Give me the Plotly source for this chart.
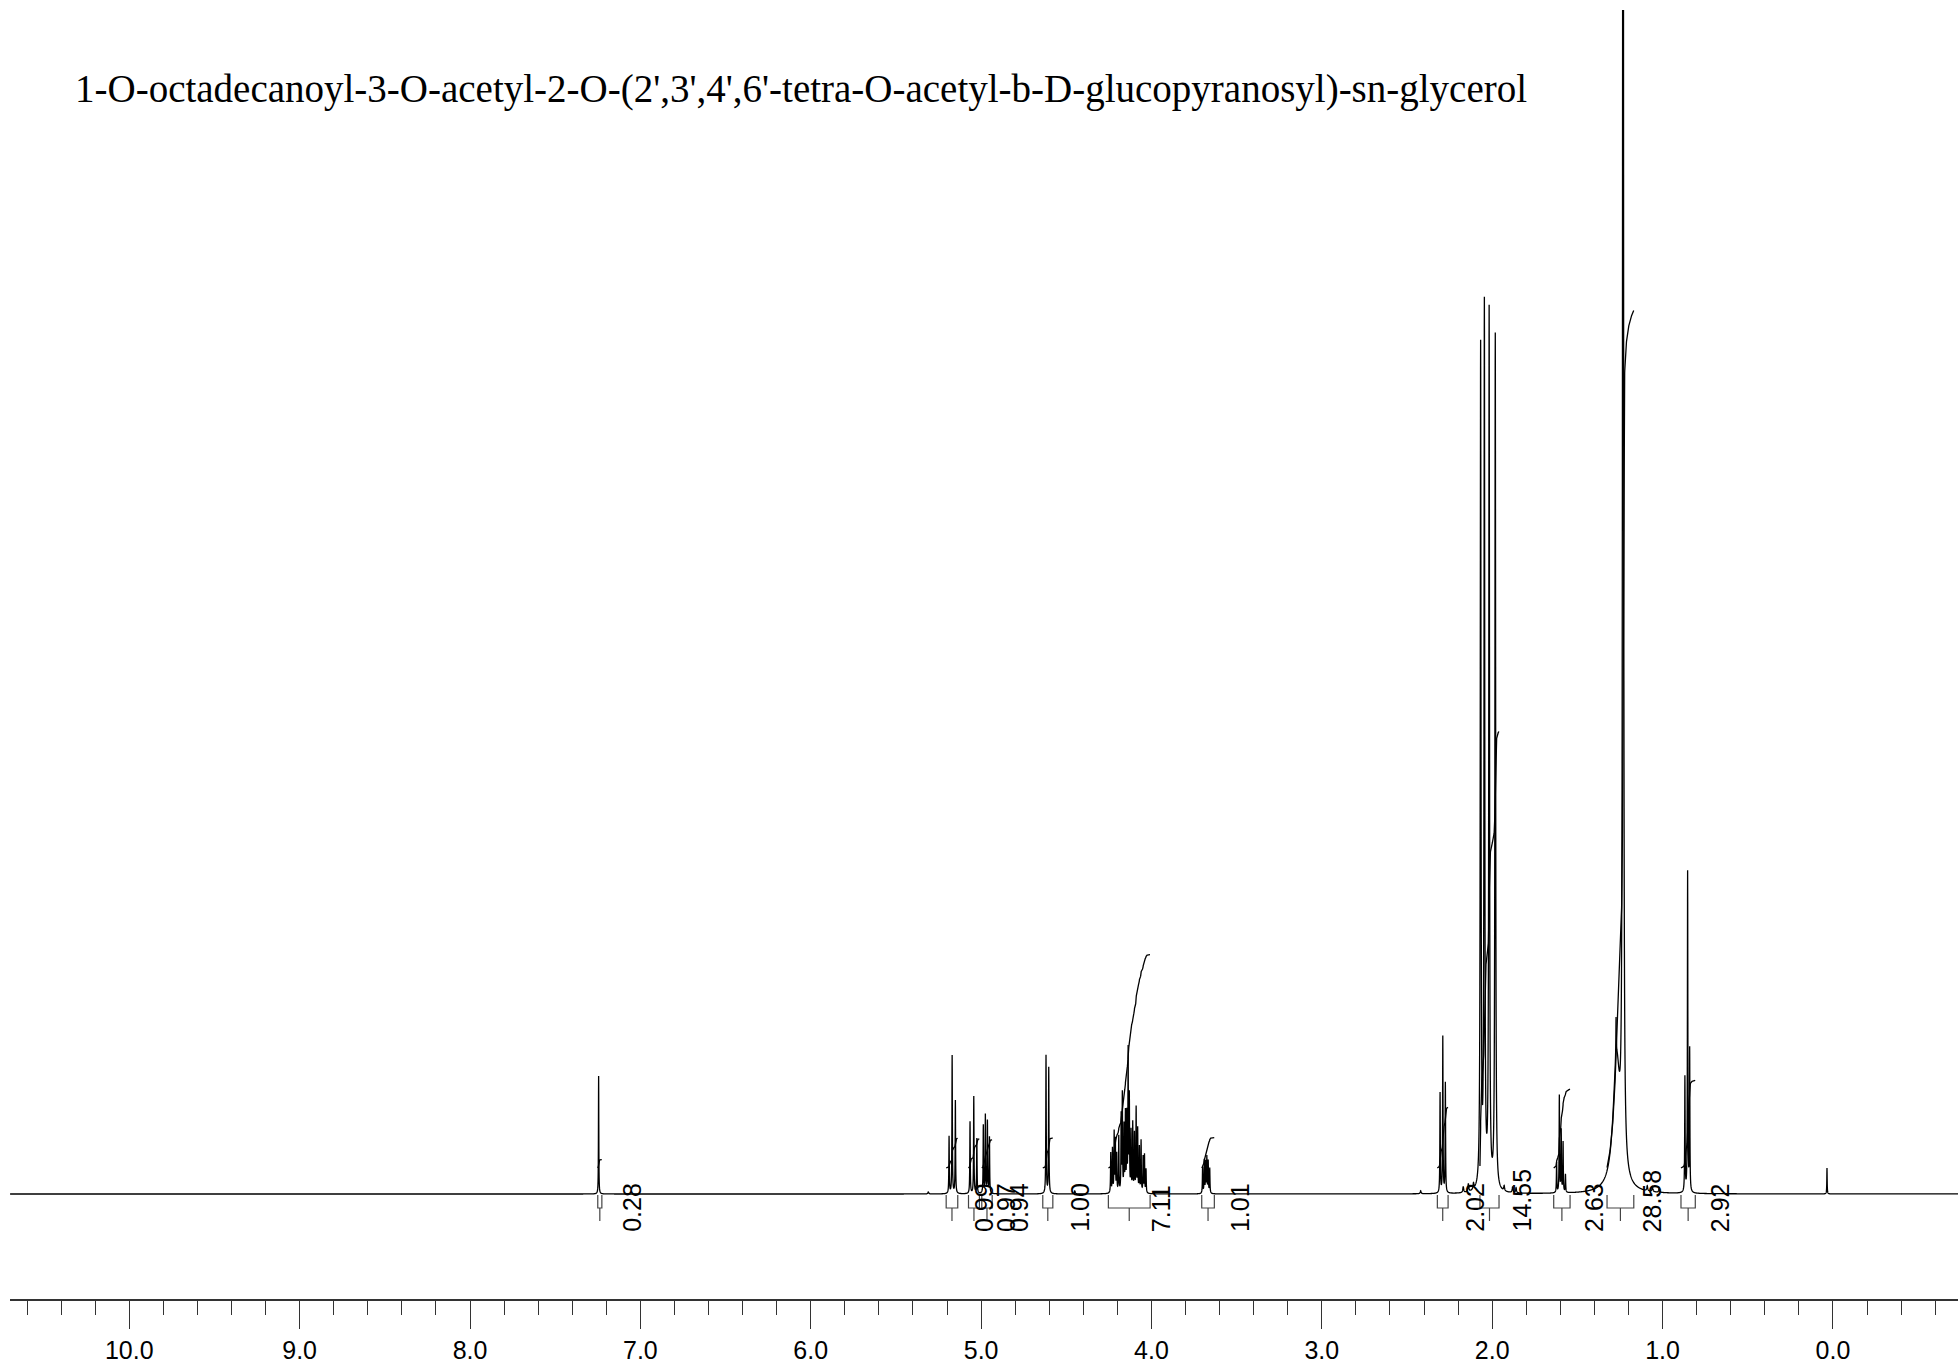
import numpy as np
import plotly.graph_objects as go

TITLE = "1-O-octadecanoyl-3-O-acetyl-2-O-(2',3',4',6'-tetra-O-acetyl-b-D-glucopyranosyl)-sn-glycerol"

# peak list: shift (ppm), height above baseline, half width (ppm)
peak_ppm = [
    7.245,                                   # CHCl3
    5.188, 5.170, 5.151,                     # H-3'
    5.065, 5.043, 5.025,                     # H-4'
    4.987, 4.975, 4.963, 4.951,              # H-2'
    4.619, 4.603,                            # H-1'
    4.239, 4.229, 4.219, 4.212, 4.204, 4.192, 4.178, 4.171, 4.161, 4.153, 4.145,
    4.137, 4.130, 4.120, 4.110, 4.100, 4.090, 4.081, 4.071, 4.061, 4.049, 4.041, 4.032,
    3.700, 3.690, 3.682, 3.675, 3.667, 3.658,  # H-5'
    2.306, 2.290, 2.275,                     # CH2CO
    2.068, 2.046, 2.018, 1.982,              # OAc
    1.622, 1.606, 1.595, 1.584, 1.570,       # CH2
    1.232, 1.270, 1.273,                     # (CH2)n
    0.869, 0.853, 0.841,                     # CH3
    0.035,                                   # TMS
    5.31, 4.45, 2.42, 2.17, 2.14, 2.11, 1.93, 1.88, 1.86, 1.09, 1.06, 1.02,
]
peak_height = [
    118,
    57, 138, 93,
    72, 97, 55,
    68, 78, 72, 56,
    138, 126,
    40, 44, 60, 52, 38, 56, 76, 97, 65, 78, 76,
    140, 94, 60, 69, 58, 84, 63, 45, 52, 36, 38, 24,
    26, 33, 31, 36, 32, 25,
    100, 156, 110,
    840, 878, 876, 855,
    30, 97, 62, 50, 18,
    2400, 130, 40,
    115, 320, 142,
    26,
    2, 3, 3, 6, 8, 6, 5, 6, 5, 5, 5, 4,
]
peak_hwhm = (
    [0.0012]
    + [0.0015] * 12
    + [0.0015] * 23
    + [0.0015] * 6
    + [0.0015] * 3
    + [0.0025] * 4
    + [0.0015] * 5
    + [0.0025, 0.025, 0.0015]
    + [0.0015] * 3
    + [0.0012]
    + [0.003] * 12
)

# integration regions (ppm from, ppm to) and their values
int_from = [7.250, 5.205, 5.074, 4.996, 4.638, 4.253, 3.705, 2.322, 2.072, 1.639, 1.326, 0.892]
int_to = [7.226, 5.137, 5.010, 4.935, 4.579, 4.008, 3.631, 2.259, 1.960, 1.543, 1.169, 0.808]
int_value = [0.28, 0.99, 0.97, 0.94, 1.00, 7.11, 1.01, 2.02, 14.55, 2.63, 28.58, 2.92]

X_RANGE = [10.70, -0.734]
Y_RANGE = [-105, 1184]
INT_SCALE = 30      # rise of integral curve per unit
INT_OFFSET = 26     # integral curves start above baseline
LABEL_SHIFT = 0.185

FONT_NUM = "Liberation Sans, Arial, sans-serif"

# spectrum line from the peak list (Lorentzian lines)
grid = np.arange(X_RANGE[1], X_RANGE[0], 0.0005)
ppm = np.sort(np.unique(np.concatenate([grid, peak_ppm])))[::-1]
spec = np.zeros_like(ppm)
for p0, h, g in zip(peak_ppm, peak_height, peak_hwhm):
    spec += h * g ** 2 / ((ppm - p0) ** 2 + g ** 2)

fig = go.Figure()
fig.add_trace(go.Scatter(x=ppm, y=spec, mode='lines',
                         line=dict(color='black', width=1.3, simplify=False),
                         hoverinfo='skip', showlegend=False))

# integral curves and brackets
ix, iy, bx, by = [], [], [], []
for a, b, v in zip(int_from, int_to, int_value):
    m = (ppm <= a) & (ppm >= b)
    cs = np.cumsum(spec[m])
    cs = cs / cs[-1] * v * INT_SCALE + INT_OFFSET
    ix += list(ppm[m]) + [None]
    iy += list(cs) + [None]
    c = (a + b) / 2
    bx += [a, a, b, b, None, c, c, None]
    by += [-1, -14, -14, -1, None, -14, -27, None]
    fig.add_annotation(x=c - LABEL_SHIFT, y=-40, text=f"{v:.2f}", textangle=-90,
                       showarrow=False, xanchor='center', yanchor='bottom',
                       font=dict(family=FONT_NUM, size=25, color='black'))

fig.add_trace(go.Scatter(x=ix, y=iy, mode='lines', line=dict(color='black', width=1.3),
                         hoverinfo='skip', showlegend=False))
fig.add_trace(go.Scatter(x=bx, y=by, mode='lines', line=dict(color='#444', width=1.2),
                         hoverinfo='skip', showlegend=False))

fig.add_annotation(x=10.33, y=1105, text=TITLE, showarrow=False,
                   xanchor='left', yanchor='middle',
                   font=dict(family="Liberation Serif, Times New Roman, serif", size=39, color='black'))

fig.update_layout(
    width=1958, height=1365,
    margin=dict(l=10, r=0, t=10, b=66, autoexpand=False),
    plot_bgcolor='white', paper_bgcolor='white',
    showlegend=False,
)
fig.update_xaxes(
    range=X_RANGE, showgrid=False, zeroline=False, automargin=False,
    showline=True, linecolor='#333', linewidth=2,
    ticks='outside', tick0=0, dtick=1, ticklen=28, tickwidth=1, tickcolor='#333',
    tickformat='.1f', ticklabelstandoff=0,
    tickfont=dict(family=FONT_NUM, size=25, color='black'),
    minor=dict(dtick=0.2, ticks='outside', ticklen=14, tickwidth=1, tickcolor='#333', showgrid=False),
)
fig.update_yaxes(range=Y_RANGE, visible=False, showgrid=False, zeroline=False, automargin=False)

# page body has a default margin; drop it so the figure sits at the window origin
fig.write_html("out.html", config={'displayModeBar': False},
               post_script="document.body.style.margin='0';")
